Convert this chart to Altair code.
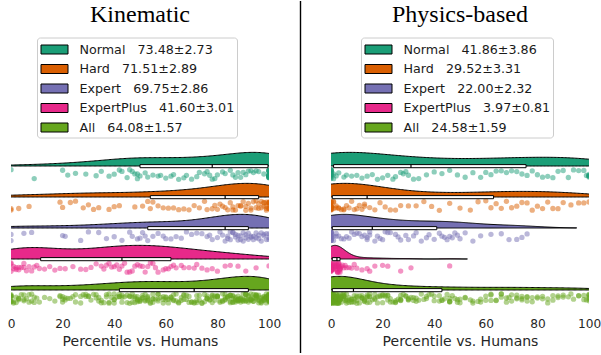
import altair as alt
import pandas as pd
import numpy as np

cats = ["Normal", "Hard", "Expert", "ExpertPlus", "All"]
colors = ["#1b9e77", "#d95f02", "#7570b3", "#e7298a", "#66a61e"]

# legend numbers
kin_mean = ["73.48", "71.51", "69.75", "41.60", "64.08"]
kin_sem = ["2.73", "2.89", "2.86", "3.01", "1.57"]
phy_mean = ["41.86", "29.52", "22.00", "3.97", "24.58"]
phy_sem = ["3.86", "3.31", "2.32", "0.81", "1.59"]

# box statistics (q1, median, q3)
kin_q1 = [50, 54, 53, 11.5, 42]
kin_med = [78, 83, 83, 43, 71]
kin_q3 = [99.6, 96, 92, 62, 92]
phy_q1 = [1, 0.5, 0.5, 0.5, 0.5]
phy_med = [31, 14, 16, 2.3, 8.7]
phy_q3 = [75.6, 63, 41, 3.5, 43]

# per-song percentiles (estimated from the strip points)
kin_normal = [0, 9, 20, 22, 25, 29, 33, 35, 38, 40, 42, 43, 45, 46, 47, 48, 49, 49,
              50, 52, 53, 55, 57, 58, 60, 62, 63, 65, 67, 68, 70, 72, 73, 75, 76, 77,
              78, 79, 80, 82, 83, 85, 86, 87, 88, 89, 90, 91, 92, 93, 94, 95, 96, 98,
              100, 100, 100, 100, 100, 100, 100, 100, 100, 100, 100, 100, 100, 100, 100, 100, 100, 100]
kin_hard = [0, 0, 3, 7, 19, 20, 23, 25, 28, 30, 32, 34, 38, 40, 42, 48, 51, 53,
            54, 55, 57, 59, 61, 63, 65, 67, 69, 71, 73, 75, 76, 78, 79, 80, 81, 82,
            83, 84, 85, 86, 86, 87, 88, 89, 89, 90, 91, 91, 92, 93, 93, 94, 95, 95,
            96, 96, 97, 97, 98, 98, 98, 99, 99, 99, 99, 100, 100, 100, 100, 100, 100, 100]
kin_expert = [0, 0, 5, 8, 20, 21, 27, 30, 34, 37, 40, 43, 46, 47, 49, 50, 51, 52,
              53, 55, 57, 59, 60, 62, 64, 66, 68, 70, 72, 74, 76, 77, 78, 80, 81, 82,
              83, 84, 84, 85, 85, 86, 86, 87, 87, 88, 88, 89, 89, 90, 90, 91, 91, 92,
              92, 93, 93, 94, 94, 95, 95, 96, 96, 97, 97, 98, 98, 99, 99, 100, 100, 100]
kin_expertplus = [0, 0, 0, 1, 1, 2, 2, 3, 3, 4, 5, 5, 6, 7, 8, 9, 10, 11,
                  13, 15, 17, 19, 21, 24, 27, 29, 31, 33, 35, 36, 37, 38, 39, 40, 41, 42,
                  43, 44, 45, 46, 47, 48, 49, 50, 51, 52, 53, 54, 55, 56, 57, 59, 60, 61,
                  62, 63, 64, 66, 67, 69, 71, 72, 74, 76, 78, 80, 83, 85, 88, 91, 95, 100]

phy_normal = [0, 0, 0, 0, 0, 0, 0, 0, 0, 0, 0, 0, 0, 0, 0, 0, 1, 1,
              2, 3, 5, 6, 8, 10, 12, 14, 16, 18, 20, 22, 24, 25, 27, 28, 29, 30,
              32, 34, 37, 40, 43, 46, 49, 52, 55, 58, 60, 62, 64, 66, 68, 70, 72, 74,
              76, 78, 80, 82, 84, 86, 88, 90, 92, 94, 96, 98, 99, 100, 100, 100, 100, 100]
phy_hard = [0, 0, 0, 0, 0, 0, 0, 0, 0, 0, 0, 0, 0, 0, 0, 0, 0, 1,
            1, 1, 2, 2, 3, 3, 4, 5, 5, 6, 7, 8, 9, 10, 11, 12, 13, 13,
            15, 17, 19, 21, 23, 25, 27, 30, 33, 36, 39, 42, 46, 50, 54, 57, 60, 62,
            64, 66, 68, 70, 72, 74, 76, 78, 80, 82, 84, 86, 88, 90, 93, 96, 98, 100]
phy_expert = [0, 0, 0, 0, 0, 0, 0, 0, 0, 0, 0, 0, 0, 0, 0, 0, 0, 1,
              1, 2, 2, 3, 4, 5, 6, 7, 8, 9, 10, 11, 12, 13, 14, 14, 15, 15,
              17, 18, 19, 20, 21, 22, 23, 25, 26, 27, 29, 30, 32, 33, 35, 37, 38, 40,
              42, 43, 44, 45, 46, 47, 48, 49, 50, 52, 55, 58, 62, 66, 69, 72, 74, 76]
phy_expertplus = [0, 0, 0, 0, 0, 0, 0, 0, 0, 0, 0, 0, 0, 0, 0, 0, 0, 0,
                  0, 0, 0, 0, 0, 0, 0.5, 0.5, 1, 1, 1, 1, 1.5, 1.5, 2, 2, 2, 2,
                  2, 2, 2.5, 2.5, 2.5, 2.5, 3, 3, 3, 3, 3, 3, 3, 3.5, 3.5, 3.5, 3.5, 3.5,
                  4, 4.5, 5, 5.5, 6, 7, 8, 9, 10, 12, 14, 15, 17, 20, 22, 27, 31, 46]

kin_groups = [kin_normal, kin_hard, kin_expert, kin_expertplus,
              kin_normal + kin_hard + kin_expert + kin_expertplus]
phy_groups = [phy_normal, phy_hard, phy_expert, phy_expertplus,
              phy_normal + phy_hard + phy_expert + phy_expertplus]

NB = "\u00a0"
Y_TOP, Y_BOT = -134 / 31, 144 / 31
XT = "Percentile vs. Humans"

xaxis = alt.Axis(values=[0, 20, 40, 60, 80, 100], format="d", labelFont="DejaVu Sans",
                 labelFontSize=12.2, labelColor="#262626", labelPadding=7.5, tickSize=0,
                 ticks=False, domain=False, grid=False, labelFlush=False,
                 titleFont="DejaVu Sans", titleFontSize=14, titleFontWeight="normal",
                 titleColor="#262626", titlePadding=4.5)
xscale = alt.Scale(domain=[0, 100], nice=False, zero=False)
yscale = alt.Scale(domain=[Y_TOP, Y_BOT], reverse=True, nice=False, zero=False)


def X(field):
    return alt.X(field, type="quantitative", scale=xscale, axis=xaxis, title=XT)


def Y(field):
    return alt.Y(field, type="quantitative", scale=yscale, axis=None)


def panel(title, groups, q1, med, q3, means, sems, legend_x, width, divider):
    labels = [f"{c}{NB*3}{m}±{s}{NB*3}" for c, m, s in zip(cats, means, sems)]
    rows = []
    for r, (c, lab, vals) in enumerate(zip(cats, labels, groups)):
        for v in vals:
            rows.append({"cat": c, "lab": lab, "r": r, "v": v, "i": len(rows)})
    pts = pd.DataFrame(rows)

    leg = alt.Legend(title=None, orient="none", legendX=legend_x, legendY=5.5,
                     symbolType="M-1.5,-0.5H1.5V0.5H-1.5Z", symbolSize=324,
                     symbolStrokeColor="black", symbolStrokeWidth=1, symbolOpacity=1,
                     labelFont="DejaVu Sans", labelFontSize=12.7, labelColor="#1a1a1a",
                     labelOffset=15.5, symbolOffset=5.5, padding=2.5, rowPadding=2.5,
                     fillColor="white", strokeColor="#cccccc", cornerRadius=3,
                     labelLimit=400)
    cscale = alt.Scale(domain=labels, range=colors)

    layers = []
    for r, (c, vals) in enumerate(zip(cats, groups)):
        a = np.array(vals, dtype=float)
        bw = float(a.std(ddof=1) * len(a) ** -0.2)
        lo, hi = float(a.min() - 2 * bw), float(a.max() + 2 * bw)
        vio = alt.Chart(pts).transform_filter(alt.datum.cat == c).transform_density(
            "v", as_=["v", "density"], bandwidth=bw, extent=[lo, hi], steps=300,
            groupby=["lab", "r"]
        ).transform_joinaggregate(maxd="max(density)").transform_calculate(
            top="datum.r - 0.44 * datum.density / datum.maxd", base="datum.r"
        ).mark_area(stroke="black", strokeWidth=1, clip=True, opacity=1).encode(
            x=X("v"), y=Y("top"), y2="base:Q",
            color=alt.Color("lab:N", scale=cscale, legend=leg))
        layers.append(vio)

    points = alt.Chart(pts).transform_calculate(
        yy="datum.r + 0.12 + 0.31 * (abs(sin(datum.i * 12.9898) * 43758.5453) % 1)"
    ).mark_circle(size=28, opacity=0.5, clip=True).encode(
        x=X("v"), y=Y("yy"), color=alt.Color("lab:N", scale=cscale, legend=None))
    layers.append(points)

    box_df = pd.DataFrame({"r": list(range(5)), "q1": q1, "med": med, "q3": q3})
    boxbase = alt.Chart(box_df).transform_calculate(yt="datum.r - 0.045", yb="datum.r + 0.055")
    box = boxbase.mark_rect(fill="white", stroke="black", strokeWidth=1).encode(
        x=X("q1"), x2="q3:Q", y=Y("yt"), y2="yb:Q")
    medr = boxbase.mark_rule(color="black", strokeWidth=1.2).encode(
        x=X("med"), y=Y("yt"), y2="yb:Q")
    layers += [box, medr]

    one = pd.DataFrame({"t": [title]})
    ttl = alt.Chart(one).mark_text(font="Liberation Serif", fontSize=24, color="black",
                                   align="center", baseline="alphabetic").encode(
        text="t:N", x=alt.value(width / 2), y=alt.value(-10))
    layers.append(ttl)
    if divider:
        rule = alt.Chart(one).mark_rule(color="black", strokeWidth=1.4).encode(
            x=alt.value(-30.5), y=alt.value(-31), y2=alt.value(321))
        layers.append(rule)

    return alt.layer(*layers).properties(width=width, height=278)


left = panel("Kinematic", kin_groups, kin_q1, kin_med, kin_q3, kin_mean, kin_sem, 26, 258, False)
right = panel("Physics-based", phy_groups, phy_q1, phy_med, phy_q3, phy_mean, phy_sem, 30, 258, True)

chart = alt.hconcat(left, right, spacing=62, bounds="flush").resolve_scale(
    color="independent").resolve_legend(color="independent").properties(
    padding={"left": 7, "top": 0, "right": 0, "bottom": 0},
    autosize=alt.AutoSizeParams(type="pad")
).configure_view(stroke=None)

chart.save("out.html", embed_options={"renderer": "svg", "actions": False})
